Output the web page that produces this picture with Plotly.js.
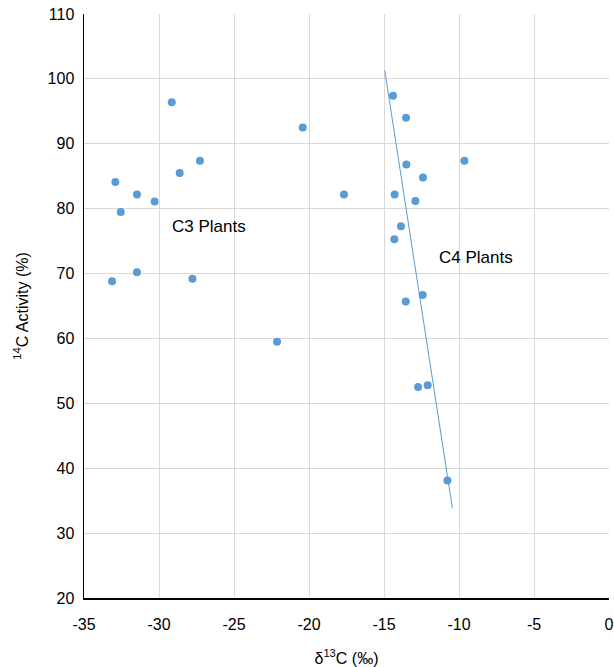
<!DOCTYPE html>
<html>
<head>
<meta charset="utf-8">
<script src="https://cdn.plot.ly/plotly-3.0.1.min.js"></script>
<style>html,body{margin:0;padding:0;background:#fff;}#chart{width:614px;height:667px;}</style>
</head>
<body>
<div id="chart"></div>
<script>
// δ13C (‰) values
const d13C = [-29.15, -20.42, -27.27, -28.62, -32.91, -31.47, -30.29, -32.55, -31.47, -33.13, -27.77, -22.13,
  -14.4, -13.53, -9.64, -13.51, -12.4, -17.67, -14.29, -12.91, -13.87, -14.31, -12.42, -13.55, -12.73, -12.09, -10.77];
// 14C activity (%)
const c14 = [96.4, 92.5, 87.4, 85.5, 84.1, 82.2, 81.1, 79.5, 70.2, 68.8, 69.2, 59.5,
  97.4, 94.0, 87.4, 86.8, 84.8, 82.2, 82.2, 81.2, 77.3, 75.3, 66.7, 65.7, 52.5, 52.8, 38.1];
// trend line endpoints
const trendX = [-14.95, -10.44];
const trendY = [101.3, 33.85];
// labels
const labelText = ["C3 Plants", "C4 Plants"];
const labelX = [-26.65, -11.44];
const labelY = [77.3, 72.4];
const xTicks = [-35, -30, -25, -20, -15, -10, -5, 0];
const yTicks = [20, 30, 40, 50, 60, 70, 80, 90, 100, 110];

const blue = '#5b9bd5';
const font = 'Liberation Sans, Arial, Helvetica, sans-serif';

const data = [
  {x: trendX, y: trendY, mode: 'lines', type: 'scatter', line: {color: blue, width: 1}, hoverinfo: 'skip'},
  {x: d13C, y: c14, mode: 'markers', type: 'scatter', marker: {color: blue, size: 8}}
];

const layout = {
  width: 614, height: 667,
  margin: {l: 84, r: 5, t: 14, b: 69},
  showlegend: false,
  paper_bgcolor: '#fff', plot_bgcolor: '#fff',
  font: {family: font, size: 16, color: '#000'},
  xaxis: {
    range: [-35, 0], tickvals: xTicks, ticktext: xTicks.map(String),
    showgrid: true, gridcolor: '#d9d9d9', gridwidth: 1,
    zeroline: false, showline: true, linecolor: '#000', linewidth: 1.5,
    ticks: '', ticklabelstandoff: 11, tickfont: {size: 16},
    title: {text: 'δ<sup>13</sup>C (‰)', font: {size: 16}, standoff: 24}
  },
  yaxis: {
    range: [20, 110], tickvals: yTicks, ticktext: yTicks.map(String),
    showgrid: true, gridcolor: '#d9d9d9', gridwidth: 1,
    zeroline: false, showline: true, linecolor: '#000', linewidth: 1.5,
    ticks: '', ticklabelstandoff: 5, tickfont: {size: 16},
    title: {text: '<sup>14</sup>C Activity (%)', font: {size: 16}, standoff: 15}
  },
  annotations: labelText.map((t, i) => ({
    x: labelX[i], y: labelY[i], xref: 'x', yref: 'y', text: t, showarrow: false,
    xanchor: i === 0 ? 'center' : 'left', font: {size: 17, color: '#000'}
  }))
};

Plotly.newPlot('chart', data, layout, {displayModeBar: false, staticPlot: true});
</script>
</body>
</html>
